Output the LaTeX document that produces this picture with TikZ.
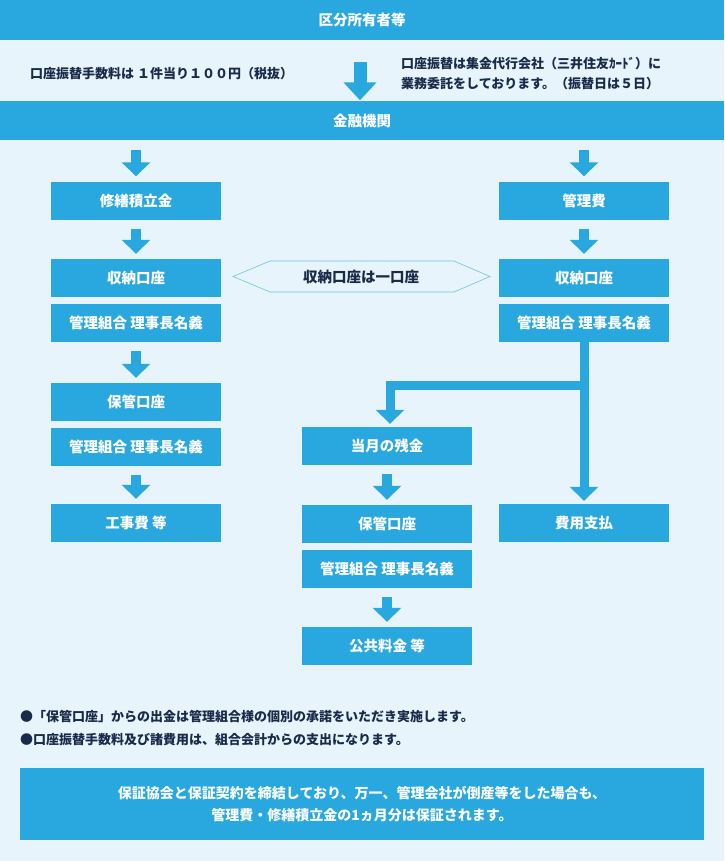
\documentclass[tikz,border=0pt]{standalone}
\usepackage{fontspec}
\setmainfont{Noto Sans CJK JP}
\usetikzlibrary{arrows.meta,shapes.geometric}
\definecolor{bg}{HTML}{E8F4FB}
\definecolor{bl}{HTML}{29A8E0}
\definecolor{tx}{HTML}{1A2A4A}
\begin{document}
\begin{tikzpicture}[x=1pt,y=-1pt,
 box/.style={fill=bl,draw=none,minimum width=170pt,minimum height=38pt,inner sep=0pt,text=white,font=\fontsize{14.5}{16}\selectfont\bfseries},
 band/.style={fill=bl,draw=none,minimum width=724pt,minimum height=40pt,inner sep=0pt,text=white,font=\fontsize{14.5}{16}\selectfont\bfseries},
 arr/.style={draw=bl,line width=10pt,-{Triangle[width=28pt,length=14pt]},shorten <=9pt,shorten >=5pt},
 note/.style={text=tx,font=\fontsize{13}{15}\selectfont\bfseries,anchor=west,inner sep=0pt}]
\fill[bg] (0,0) rectangle (724,861);
\useasboundingbox (0,0) rectangle (724,861);
\node[band] (top) at (362,20) {区分所有者等};
\node[band,minimum height=39pt] (bank) at (362,121) {金融機関};
\node[note] (n1) at (30,74) {口座振替手数料は\ １件当り１００円（税抜）};
\node[note,align=left,font=\fontsize{13}{20}\selectfont\bfseries] (n2) at (401,74) {口座振替は集金代行会社（三井住友ｶｰﾄﾞ）に\\業務委託をしております。（振替日は５日）};
\draw[draw=bl,line width=13pt,-{Triangle[width=32pt,length=18pt]},shorten <=22pt,shorten >=1pt] (top.south -| 360,0) -- (bank.north -| 360,0);
% left
\node[box] (l1) at (136,200.5) {修繕積立金};
\node[box] (l2) at (136,278) {収納口座};
\node[box] (l3) at (136,323) {管理組合\ 理事長名義};
\node[box] (l4) at (136,402) {保管口座};
\node[box] (l5) at (136,447) {管理組合\ 理事長名義};
\node[box] (l6) at (136,523) {工事費\ 等};
% right
\node[box] (r1) at (584,200.5) {管理費};
\node[box] (r2) at (584,278) {収納口座};
\node[box] (r3) at (584,323) {管理組合\ 理事長名義};
\node[box] (r4) at (584,523) {費用支払};
% middle
\node[box] (m1) at (387,446) {当月の残金};
\node[box] (m2) at (387,524) {保管口座};
\node[box] (m3) at (387,569) {管理組合\ 理事長名義};
\node[box] (m4) at (387,646) {公共料金\ 等};
% hexagon
\coordinate (h1) at (233,276.5); \coordinate (h2) at (270,261); \coordinate (h3) at (454,261);
\coordinate (h4) at (490,276.5); \coordinate (h5) at (454,292); \coordinate (h6) at (270,292);
\draw[bl!70,line width=0.6pt,fill=bg] (h1)--(h2)--(h3)--(h4)--(h5)--(h6)--cycle;
\node[text=tx,font=\fontsize{14.5}{16}\selectfont\bfseries] (hx) at (361,276.5) {収納口座は一口座};
% arrows
\draw[arr] (bank.south -| l1.north) -- (l1.north);
\draw[arr] (bank.south -| r1.north) -- (r1.north);
\draw[arr] (l1) -- (l2);
\draw[arr] (l3) -- (l4);
\draw[arr] (l5) -- (l6);
\draw[arr] (r1) -- (r2);
\draw[arr] (m1) -- (m2);
\draw[arr] (m3) -- (m4);
\coordinate (j) at (584,385);
\coordinate (k) at (390,385);
\draw[draw=bl,line width=9pt,-{Triangle[width=28pt,length=14pt]},shorten >=3pt] (r3.south) -- (r4.north);
\draw[draw=bl,line width=9pt,-{Triangle[width=28pt,length=14pt]},shorten >=3pt] (j) -- (k) -- (k |- m1.north);
% notes
\node[note] (b1) at (20,717) {●「保管口座」からの出金は管理組合様の個別の承諾をいただき実施します。};
\node[note] (b2) at (20,740) {●口座振替手数料及び諸費用は、組合会計からの支出になります。};
\node[fill=bl,minimum width=684pt,minimum height=72pt,inner sep=0pt,text=white,align=center,font=\fontsize{14}{22}\selectfont\bfseries] (fin) at (362,804) {保証協会と保証契約を締結しており、万一、管理会社が倒産等をした場合も、\\管理費・修繕積立金の1ヵ月分は保証されます。};
\end{tikzpicture}
\end{document}
